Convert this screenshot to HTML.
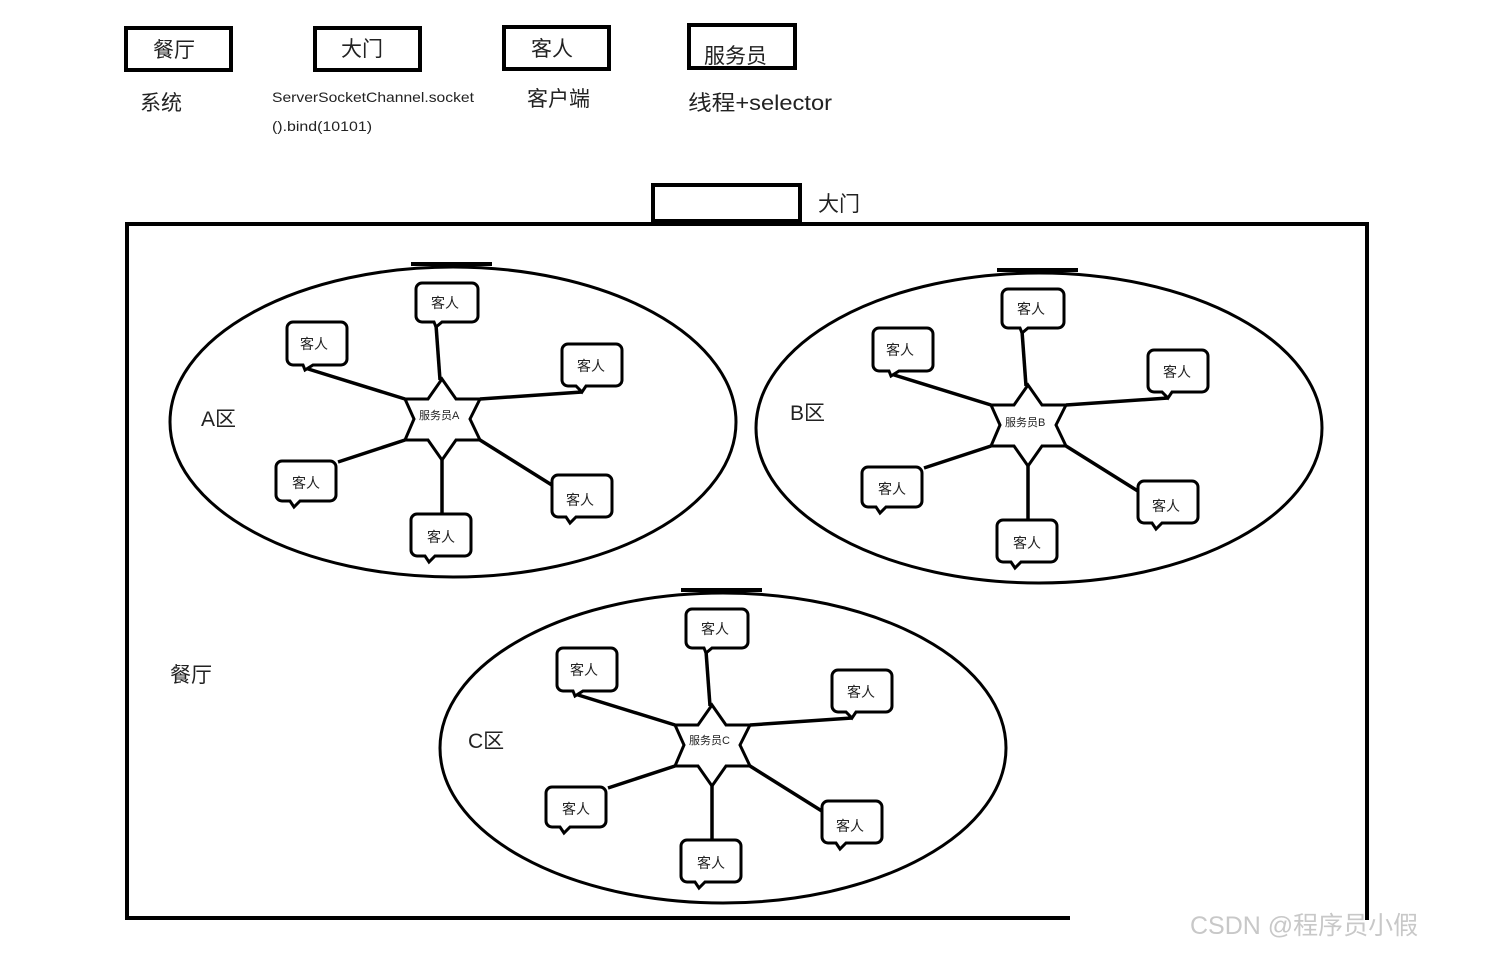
<!DOCTYPE html>
<html><head><meta charset="utf-8"><style>
html,body{margin:0;padding:0;background:#fff;}
svg{display:block;}
text{font-family:"Liberation Sans","Noto Sans CJK SC",sans-serif;fill:#222;}
</style></head><body>
<svg width="1494" height="963" viewBox="0 0 1494 963" xmlns="http://www.w3.org/2000/svg">
<defs>
<g id="zone">
  <ellipse cx="453" cy="422" rx="283" ry="155" fill="none" stroke="#000" stroke-width="3"/>
  <line x1="411" y1="264" x2="492" y2="264" stroke="#000" stroke-width="4"/>
  <g stroke="#000" stroke-width="3.5" fill="none">
    <line x1="405" y1="399" x2="305" y2="368"/>
    <line x1="440" y1="380" x2="436" y2="325"/>
    <line x1="480" y1="399" x2="582" y2="392"/>
    <line x1="405" y1="440" x2="338" y2="462"/>
    <line x1="480" y1="440" x2="555" y2="487"/>
    <line x1="442" y1="460" x2="442" y2="514"/>
  </g>
  <polygon points="442,379 456,399 480,399 470,419 480,440 456,440 442,460 428,440 405,440 414,419 405,399 428,399" fill="#fff" stroke="#000" stroke-width="3"/>
  <g fill="#fff" stroke="#000" stroke-width="3">
    <path d="M293,322 h48 a6,6 0 0 1 6,6 v31 a6,6 0 0 1 -6,6 h-28 l-8,5 l-2,-5 h-10 a6,6 0 0 1 -6,-6 v-31 a6,6 0 0 1 6,-6z"/>
    <path d="M422,283 h50 a6,6 0 0 1 6,6 v27 a6,6 0 0 1 -6,6 h-30 l-6,5 l-2,-5 h-12 a6,6 0 0 1 -6,-6 v-27 a6,6 0 0 1 6,-6z"/>
    <path d="M568,344 h48 a6,6 0 0 1 6,6 v30 a6,6 0 0 1 -6,6 h-30 l-4,6 l-6,-6 h-8 a6,6 0 0 1 -6,-6 v-30 a6,6 0 0 1 6,-6z"/>
    <path d="M282,461 h48 a6,6 0 0 1 6,6 v28 a6,6 0 0 1 -6,6 h-30 l-6,6 l-4,-6 h-8 a6,6 0 0 1 -6,-6 v-28 a6,6 0 0 1 6,-6z"/>
    <path d="M558,475 h48 a6,6 0 0 1 6,6 v30 a6,6 0 0 1 -6,6 h-30 l-6,6 l-4,-6 h-8 a6,6 0 0 1 -6,-6 v-30 a6,6 0 0 1 6,-6z"/>
    <path d="M417,514 h48 a6,6 0 0 1 6,6 v30 a6,6 0 0 1 -6,6 h-30 l-6,6 l-4,-6 h-8 a6,6 0 0 1 -6,-6 v-30 a6,6 0 0 1 6,-6z"/>
  </g>
  <g font-size="14">
    <text x="300" y="349">客人</text>
    <text x="431" y="308">客人</text>
    <text x="577" y="371">客人</text>
    <text x="292" y="488">客人</text>
    <text x="566" y="505">客人</text>
    <text x="427" y="542">客人</text>
  </g>
</g>
</defs>

<g fill="none" stroke="#000" stroke-width="4">
  <rect x="126" y="28" width="105" height="42"/>
  <rect x="315" y="28" width="105" height="42"/>
  <rect x="504" y="27" width="105" height="42"/>
  <rect x="689" y="25" width="106" height="43"/>
</g>
<g font-size="21">
  <text x="153" y="57">餐厅</text>
  <text x="341" y="56">大门</text>
  <text x="531" y="56">客人</text>
  <text x="704" y="63">服务员</text>
  <text x="140" y="110">系统</text>
  <text x="527" y="106">客户端</text>
  <text x="688" y="110" textLength="144" lengthAdjust="spacingAndGlyphs">线程+selector</text>
  <text x="818" y="211">大门</text>
  <text x="170" y="682">餐厅</text>
</g>
<text x="272" y="102" font-size="14" textLength="202" lengthAdjust="spacingAndGlyphs">ServerSocketChannel.socket</text>
<text x="272" y="131" font-size="14" textLength="100" lengthAdjust="spacingAndGlyphs">().bind(10101)</text>

<rect x="653" y="185" width="147" height="36" fill="none" stroke="#000" stroke-width="4"/>
<path d="M1070,918 H127 V224 H1367 V920" fill="none" stroke="#000" stroke-width="4"/>

<use href="#zone"/>
<use href="#zone" transform="translate(586,6)"/>
<use href="#zone" transform="translate(270,326)"/>

<g font-size="11">
  <text x="419" y="419">服务员A</text>
  <text x="1005" y="426">服务员B</text>
  <text x="689" y="744">服务员C</text>
</g>
<g font-size="21">
  <text x="201" y="426">A区</text>
  <text x="790" y="420">B区</text>
  <text x="468" y="748">C区</text>
</g>

<text x="1190" y="934" font-size="25" style="fill:#c8c8c8">CSDN @程序员小假</text>
</svg>
</body></html>
